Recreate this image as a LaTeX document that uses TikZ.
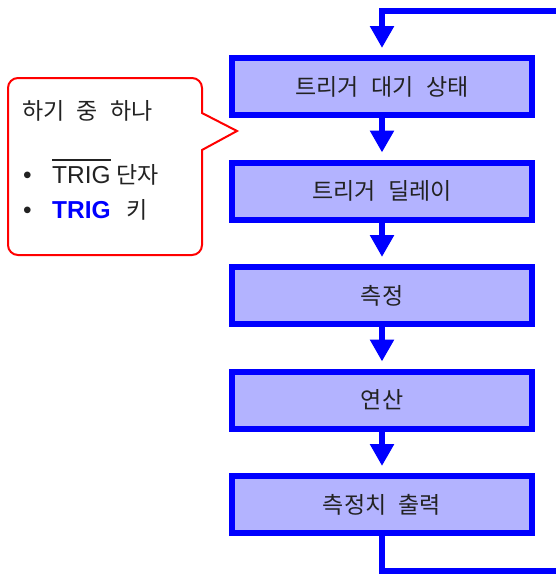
\documentclass[tikz,border=0pt]{standalone}
\usepackage{fontspec}
\setmainfont{Liberation Sans}
\newfontfamily\kr[WordSpace=2.4]{Noto Sans CJK KR}
\usetikzlibrary{positioning,arrows.meta}
\definecolor{flowblue}{HTML}{0000FF}
\definecolor{flowfill}{HTML}{B3B3FF}
\definecolor{calloutred}{HTML}{FF0000}
\definecolor{txt}{HTML}{222222}

\begin{document}
\begin{tikzpicture}[x=1pt,y=-1pt,
    every node/.style={font=\kr\fontsize{23}{27}\selectfont,text=txt},
    latin/.style={font=\rmfamily\fontsize{24.5}{28}\selectfont},
    stepbox/.style={draw=flowblue,fill=flowfill,line width=6pt,
      minimum width=300pt,minimum height=57pt,inner sep=0pt},
    flow/.style={draw=flowblue,line width=6pt},
    flowarrow/.style={flow,-{Triangle[width=23pt,length=22pt]},shorten >=7pt}]
  \useasboundingbox (0,0) rectangle (556,576);
  \clip (0,0) rectangle (556,576);
  % process steps
  \node[stepbox] (trigwait) at (382,86.5) {트리거 대기 상태};
  \node[stepbox,below=41.5pt of trigwait] (trigdelay) {트리거 딜레이};
  \node[stepbox,below=41.5pt of trigdelay] (meas) {측정};
  \node[stepbox,below=41.5pt of meas] (calc) {연산};
  \node[stepbox,below=41.5pt of calc] (output) {측정치 출력};
  % connectors
  \coordinate (loopin) at (560,11);
  \coordinate (loopout) at (560,571);
  \draw[flowarrow] (loopin) -| (trigwait.north);
  \foreach \a/\b in {trigwait/trigdelay,trigdelay/meas,meas/calc,calc/output}
    \draw[flowarrow] (\a.south) -- (\b.north);
  \draw[flow] (output.south) |- (loopout);
  % trigger source callout
  \draw[calloutred,line width=2pt,rounded corners=10pt]
    (202,113) -- (202,78) -- (8,78) -- (8,255) -- (202,255)
    [sharp corners] -- (202,150) -- (237,131) -- cycle;
  \node[anchor=base west,inner sep=0pt] (srchead) at (22,119) {하기 중 하나};
  \node[latin,anchor=base west,inner sep=0pt] (bul1) at (23,183) {\textbullet};
  \node[latin,anchor=base west,inner sep=0pt] (trigterm) at (52,183) {TRIG};
  \draw[line width=1.8pt,txt] ([yshift=5.5pt]trigterm.north west)
    -- ([yshift=5.5pt]trigterm.north east);
  \node[anchor=base west,inner sep=0pt] (termword) at (116,183) {단자};
  \node[latin,anchor=base west,inner sep=0pt] (bul2) at (23,218) {\textbullet};
  \node[latin,anchor=base west,inner sep=0pt,text=flowblue,font=\rmfamily\bfseries\fontsize{24.5}{28}\selectfont]
    (trigkey) at (52,218) {TRIG};
  \node[anchor=base west,inner sep=0pt] (keyword) at (126,218) {키};
\end{tikzpicture}
\end{document}
